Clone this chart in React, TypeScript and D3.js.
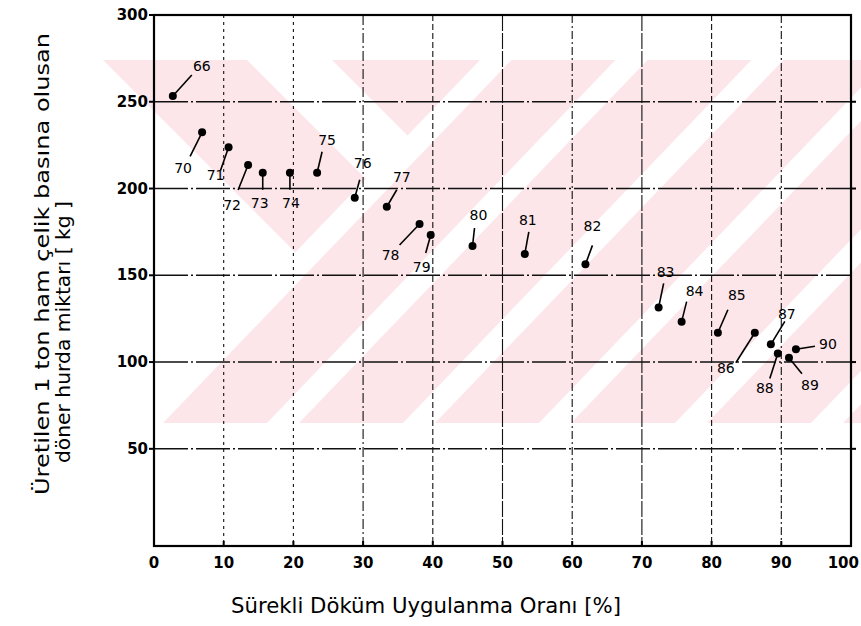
import React from "react";
import * as d3 from "d3";

// ---- data ----
const years = ["66","70","71","72","73","74","75","76","77","78","79","80","81","82","83","84","85","86","87","88","89","90"];
const rates = [2.7, 6.9, 10.7, 13.5, 15.6, 19.5, 23.4, 28.8, 33.4, 38.1, 39.7, 45.7, 53.2, 61.9, 72.4, 75.7, 80.9, 86.2, 88.5, 89.5, 91.1, 92.1];
const scrap = [253.3, 232.4, 223.8, 213.6, 209.1, 209.1, 209.1, 194.7, 189.5, 179.6, 173.2, 166.9, 162.3, 156.3, 131.5, 123.3, 116.9, 116.9, 110.2, 105.0, 102.5, 107.4];
const xTicks = [0, 10, 20, 30, 40, 50, 60, 70, 80, 90, 100];
const yTicks = [50, 100, 150, 200, 250, 300];
const xTitle = "Sürekli Döküm Uygulanma Oranı [%]";
const yTitle1 = "Üretilen 1 ton ham çelik basına olusan";
const yTitle2 = "döner hurda miktarı [ kg ]";

// label leader offsets (pixels): line end and label centre relative to the dot
const leaderOffsets: [number, number, number, number][] = [
  [19, -21, 29, -30], [-12, 24, -19, 36], [-8, 23, -13, 28], [-10, 25, -16, 40],
  [0, 17, -3, 30], [0, 17, 1, 30], [5, -21, 10, -33], [5, -18, 8, -35],
  [10, -17, 15, -30], [-20, 21, -29, 31], [-5, 18, -9, 32], [2, -18, 6, -31],
  [4, -22, 3, -34], [7, -19, 7, -38], [5, -24, 7, -35], [5, -20, 13, -31],
  [10, -23, 19, -38], [-19, 30, -29, 35], [14, -23, 16, -30], [-8, 25, -13, 35],
  [13, 16, 21, 27], [19, -3, 32, -5],
];

const gridDashX: Record<number, string> = {
  10: "3 4", 20: "3 4", 30: "10 3 2 3", 40: "6 3", 50: "16 2",
  60: "8 3 2 3", 70: "16 2", 80: "6 3", 90: "8 3 2 3",
};

const W = 861, H = 626;
const x = d3.scaleLinear().domain([0, 100]).range([154, 851]);
const y = d3.scaleLinear().domain([-6, 300]).range([546, 15]);

const FONT = "'DejaVu Sans', sans-serif";
const PINK = "#fce6ea";

function Watermark() {
  const top = 60, bot = 423;
  const slope = 0.96;
  const shift = (bot - top) * slope;
  const fwd: string[] = [];
  for (let k = 0; k < 6; k++) {
    const b0 = 163 + 136 * k;
    const b1 = b0 + 104;
    fwd.push(`M${b0},${bot}L${b1},${bot}L${b1 + shift},${top}L${b0 + shift},${top}Z`);
  }
  const back: string[] = [[103, 247], [332, 480]].map(([a, b]) =>
    `M${a},${top}L${b},${top}L${b + 400},${top + 400}L${a + 400},${top + 400}Z`);
  const bx = 480 - shift;
  return (
    <g>
      <defs>
        <clipPath id="wmA">
          <rect x={100} y={top} width={W - 100} height={bot - top} />
        </clipPath>
        <clipPath id="wmB">
          <path d={`M100,${top}L480,${top}L${bx},${bot}L100,${bot}Z`} />
        </clipPath>
      </defs>
      <g clipPath="url(#wmA)" fill={PINK}>
        {fwd.map((d, i) => <path key={i} d={d} />)}
      </g>
      <g clipPath="url(#wmB)" fill={PINK}>
        {back.map((d, i) => <path key={i} d={d} />)}
      </g>
    </g>
  );
}

export default function App() {
  const [x0, x1] = x.range();
  const [y0, y1] = y.range();
  return (
    <svg width={W} height={H} style={{ position: "absolute", left: 0, top: 0, background: "#fff" }}>
      <rect x={0} y={0} width={W} height={H} fill="#fff" />
      <Watermark />
      {/* grid */}
      <g stroke="#111" strokeWidth={1.1} fill="none">
        {yTicks.filter((t) => t < 300).map((t) => (
          <line key={"h" + t} x1={x0} x2={x1} y1={y(t)} y2={y(t)} strokeDasharray="34 3 2 3" strokeWidth={1.4} />
        ))}
        {xTicks.filter((t) => t > 0 && t < 100).map((t) => (
          <line key={"v" + t} x1={x(t)} x2={x(t)} y1={y1} y2={y0} strokeDasharray={gridDashX[t]} />
        ))}
      </g>
      {/* frame */}
      <rect x={x0} y={y1} width={x1 - x0} height={y0 - y1} fill="none" stroke="#000" strokeWidth={2.2} />
      {/* y ticks */}
      <g>
        {yTicks.map((t) => (
          <g key={"yt" + t}>
            <line x1={x0 - 5} x2={x0} y1={y(t)} y2={y(t)} stroke="#000" strokeWidth={2} />
            <text x={x0 - 6} y={y(t)} textAnchor="end" dominantBaseline="central" fontFamily={FONT} fontSize={15} fontWeight="bold">{t}</text>
          </g>
        ))}
        {[250, 200, 100, 50].map((t) => (
          <line key={"rt" + t} x1={x1} x2={x1 + 5} y1={y(t)} y2={y(t)} stroke="#000" strokeWidth={2} />
        ))}
      </g>
      {/* x ticks */}
      <g>
        {xTicks.map((t) => (
          <g key={"xt" + t}>
            <line x1={x(t)} x2={x(t)} y1={y0} y2={y0 - 5} stroke="#000" strokeWidth={2} />
            <text x={t === 100 ? W - 2 : x(t)} y={y0 + 17} textAnchor={t === 100 ? "end" : "middle"} dominantBaseline="central" fontFamily={FONT} fontSize={15} fontWeight="bold">{t}</text>
          </g>
        ))}
      </g>
      {/* points + labels */}
      <g>
        {years.map((yr, i) => {
          const cx = x(rates[i]);
          const cy = y(scrap[i]);
          const [ldx, ldy, tdx, tdy] = leaderOffsets[i];
          return (
            <g key={yr}>
              <line x1={cx} y1={cy} x2={cx + ldx} y2={cy + ldy} stroke="#000" strokeWidth={1.6} />
              <circle cx={cx} cy={cy} r={4} fill="#000" />
              <text x={cx + tdx} y={cy + tdy} textAnchor="middle" dominantBaseline="central" fontFamily={FONT} fontSize={14}>{yr}</text>
            </g>
          );
        })}
      </g>
      {/* axis titles */}
      <text x={426} y={606} textAnchor="middle" dominantBaseline="central" fontFamily={FONT} fontSize={21}
        textLength={390} lengthAdjust="spacingAndGlyphs">{xTitle}</text>
      <text transform="translate(42,495) rotate(-90)" textAnchor="start" dominantBaseline="central" fontFamily={FONT} fontSize={20}
        textLength={462} lengthAdjust="spacingAndGlyphs">{yTitle1}</text>
      <text transform="translate(63,463) rotate(-90)" textAnchor="start" dominantBaseline="central" fontFamily={FONT} fontSize={20}
        textLength={262} lengthAdjust="spacingAndGlyphs">{yTitle2}</text>
    </svg>
  );
}
